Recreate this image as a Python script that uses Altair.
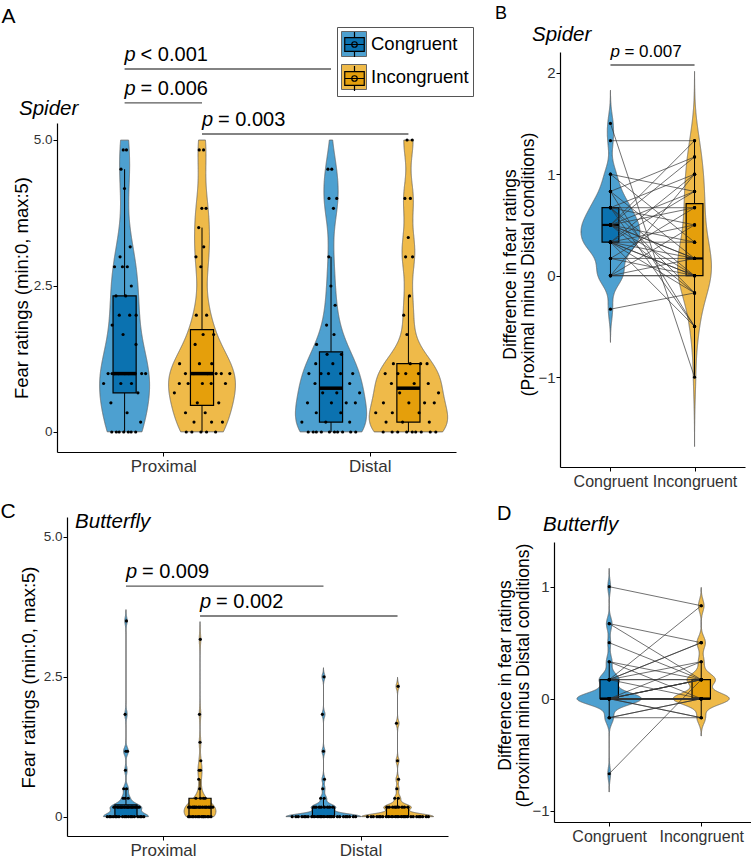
import altair as alt
import numpy as np
import pandas as pd

FONT = "Liberation Sans"
CONDITIONS = ["Congruent", "Incongruent"]
VIOLIN_FILL = ["#4DA0D0", "#EFBA49"]
BOX_FILL = ["#0B72B0", "#E59F0B"]
LOC_X = {"Proximal": 1.0, "Distal": 2.0}
COND_SHIFT = {"Congruent": -0.1875, "Incongruent": 0.1875}

# Spider: mean fear rating per participant (0-5)
spider_prox_cong = ([4.83, 4.83, 4.5, 4.17, 3.17, 3.0, 2.83, 2.83, 2.83, 2.5, 2.33, 2.33,
                     2.0, 2.0, 2.0, 1.83, 1.67, 1.5] + [1.0] * 9 + [0.83] * 3
                    + [0.67, 0.5, 0.33, 0.17] + [0.0] * 7)
spider_prox_incong = ([4.83, 4.83, 3.83, 3.83, 3.5, 3.17, 3.0, 2.83, 2.0, 2.0, 1.67, 1.67,
                       1.5, 1.17, 1.17, 1.17] + [1.0] * 6 + [0.83] * 5
                      + [0.67, 0.5, 0.5, 0.33, 0.33, 0.17, 0.17, 0.17] + [0.0] * 5)
spider_dist_cong = ([4.5, 4.5, 4.0, 4.0, 3.83, 3.0, 2.5, 2.17, 1.83, 1.67, 1.5, 1.33, 1.33,
                     1.17, 1.17] + [1.0] * 5 + [0.83] * 2 + [0.67] * 3 + [0.5] * 4
                    + [0.33] * 2 + [0.17] * 3 + [0.0] * 10)
spider_dist_incong = ([5.0, 5.0, 4.0, 4.0, 3.33, 3.0, 3.0, 2.33, 2.0, 1.67] + [1.17] * 4
                      + [1.0] * 4 + [0.83] * 3 + [0.67] * 2 + [0.5] * 4 + [0.33] * 3
                      + [0.17] * 3 + [0.0] * 9)

# Butterfly: mean fear rating per participant (0-5)
butterfly_prox_cong = [3.5, 1.83, 1.17, 1.17, 0.83, 0.5, 0.5, 0.33, 0.33, 0.33] + [0.17] * 12 + [0.0] * 18
butterfly_prox_incong = [3.17, 1.83, 1.33, 1.0, 0.83, 0.83, 0.67, 0.5] + [0.33] * 4 + [0.17] * 14 + [0.0] * 14
butterfly_dist_cong = [2.5, 1.83, 1.17, 0.67, 0.5, 0.33, 0.33] + [0.17] * 8 + [0.0] * 25
butterfly_dist_incong = [2.33, 1.67, 1.0, 0.67, 0.5, 0.33, 0.33] + [0.17] * 9 + [0.0] * 24

# Proximal minus Distal, paired by participant (same index = same person)
spider_diff_cong = [1.5, 1.33, 1.0, 1.0, 0.83, 0.83, 0.83,
                    0.67, 0.67, 0.67, 0.67, 0.67, 0.67,
                    0.5, 0.5, 0.5, 0.5, 0.5, 0.5, 0.5, 0.5, 0.5,
                    0.33, 0.33, 0.33, 0.33, 0.33, 0.33, 0.33, 0.33, 0.33,
                    0.17, 0.17, 0.17, 0.0, 0.0, 0.0, 0.0, 0.0, -0.33]
spider_diff_incong = [-1.0, 1.33, 0.83, 0.33, 1.17, 0.17, -0.5,
                      1.0, 0.67, 0.5, -0.17, 0.0, -0.5,
                      1.33, 1.17, 0.83, 0.17, 0.0, 0.33, -0.17, 0.17, 0.67,
                      1.0, 0.5, 0.17, 0.0, 0.0, -0.17, 0.33, 0.83, -0.5,
                      0.67, 0.17, 0.0, 1.0, 0.5, 0.0, 0.17, 0.0, -0.17]
butterfly_diff_cong = ([1.0, 0.67, 0.67, 0.5, 0.33, 0.33,
                        0.17, 0.17, 0.17, 0.17, 0.17, 0.17, 0.17]
                       + [0.0] * 23 + [-0.17, -0.17, -0.17, -0.67])
butterfly_diff_incong = ([0.83, 0.5, 0.17, 0.17, 0.17, 0.0,
                          0.83, 0.5, 0.5, 0.33, 0.17, 0.17, 0.0]
                         + [0.33] + [0.17] * 4 + [0.0] * 16 + [-0.17] * 2
                         + [0.0, 0.0, -0.17, 0.17])

BOX_GLYPH = ("M-0.78,-0.55H0.78V0.55H-0.78Z M-0.78,0H0.78 M0,-1V-0.55 M0,0.55V1 "
             "M0.22,0A0.22,0.22,0,1,1,-0.22,0A0.22,0.22,0,1,1,0.22,0Z")

VIOLIN_SCALE = alt.Scale(domain=CONDITIONS, range=VIOLIN_FILL)
BOX_SCALE = alt.Scale(range=BOX_FILL)
VIOLIN_LEGEND = alt.Legend(orient="none", legendX=337, legendY=27, title=None,
                           symbolType="square", symbolSize=625, symbolStrokeColor="#666666",
                           symbolStrokeWidth=1, symbolOpacity=1, labelFont=FONT,
                           labelFontSize=18.5, labelColor="black", labelOffset=4,
                           padding=4, rowPadding=3, strokeColor="#555555")
BOX_LEGEND = alt.Legend(orient="none", legendX=337, legendY=27, title=None,
                        symbolType=BOX_GLYPH, symbolSize=625, symbolStrokeColor="black",
                        symbolStrokeWidth=1.2, symbolOpacity=1, labelFont=FONT,
                        labelFontSize=18.5, labelOpacity=0, labelOffset=4,
                        padding=4, rowPadding=3)

# Silverman's rule of thumb (R's bw.nrd0), per group
BW_EXPR = ("0.9 * (min(datum.sd, (datum.q3 - datum.q1) / 1.34) || datum.sd)"
           " * pow(datum.n, -0.2)")


def pscale(domain, rng):
    return alt.Scale(domain=domain, range=rng, nice=False, zero=False)


def nrd0(values):
    v = np.asarray(values, dtype=float)
    sd = v.std(ddof=1)
    q1, q3 = np.percentile(v, [25, 75])
    lo = min(sd, (q3 - q1) / 1.34) or sd
    return 0.9 * lo * len(v) ** -0.2


def ratings_frame(groups):
    rows = []
    for (loc, cond), vals in groups:
        for v in vals:
            rows.append({"grp": f"{loc}-{cond}", "cond": cond,
                         "pos": LOC_X[loc] + COND_SHIFT[cond], "value": v})
    return pd.DataFrame(rows)


def diff_frame(cong, incong):
    rows = []
    for i, (a, b) in enumerate(zip(cong, incong)):
        rows.append({"pid": i, "grp": "Congruent", "cond": "Congruent", "pos": 1.0, "value": a})
        rows.append({"pid": i, "grp": "Incongruent", "cond": "Incongruent", "pos": 2.0, "value": b})
    return pd.DataFrame(rows)


def violin_layer(df, xs, ys, half, xaxis, yaxis, bounds=None):
    # kernel density per group, evaluated on value/bw so that one transform serves
    # every group; widths scaled so the largest density in the panel spans `half`
    ext = []
    for _, g in df.groupby("grp"):
        h = nrd0(g["value"])
        ext += [g["value"].min() / h - 3.5, g["value"].max() / h + 3.5]
    extent = [float(min(ext)), float(max(ext))]
    clip = ""
    if bounds is not None:
        clip = f" && datum.v >= {bounds[0]} && datum.v <= {bounds[1]}"
    return (
        alt.Chart(df)
        .transform_joinaggregate(sd="stdev(value)", q1="q1(value)", q3="q3(value)",
                                 n="count()", vmin="min(value)", vmax="max(value)",
                                 groupby=["grp"])
        .transform_calculate(bw=BW_EXPR)
        .transform_calculate(u="datum.value / datum.bw")
        .transform_density("u", as_=["u", "d"], bandwidth=1, extent=extent, steps=3000,
                           groupby=["grp", "cond", "pos", "bw", "vmin", "vmax"])
        .transform_calculate(v="datum.u * datum.bw", dens="datum.d / datum.bw")
        .transform_filter("datum.v >= datum.vmin - 3 * datum.bw && "
                          "datum.v <= datum.vmax + 3 * datum.bw" + clip)
        .transform_joinaggregate(dmax="max(dens)")
        .transform_calculate(xl=f"datum.pos - {half} * datum.dens / datum.dmax",
                             xr=f"datum.pos + {half} * datum.dens / datum.dmax")
        .mark_area(orient="horizontal", stroke="#5f5f5f", strokeWidth=0.8)
        .encode(
            y=alt.Y("v:Q", scale=ys, axis=yaxis),
            x=alt.X("xl:Q", scale=xs, axis=xaxis, stack=None),
            x2="xr:Q",
            color=alt.Color("cond:N", scale=VIOLIN_SCALE, legend=VIOLIN_LEGEND),
            detail="grp:N",
        )
    )


def box_layers(df, xs, ys, hw, med_width):
    base = (
        alt.Chart(df)
        .transform_joinaggregate(q1="q1(value)", q3="q3(value)", med="median(value)",
                                 groupby=["grp"])
        .transform_filter("datum.value >= datum.q1 - 1.5 * (datum.q3 - datum.q1) && "
                          "datum.value <= datum.q3 + 1.5 * (datum.q3 - datum.q1)")
        .transform_aggregate(lo="min(value)", hi="max(value)", q1="max(q1)", q3="max(q3)",
                             med="max(med)", groupby=["grp", "cond", "pos"])
        .transform_calculate(xl=f"datum.pos - {hw}", xr=f"datum.pos + {hw}")
    )
    low = base.mark_rule(color="black", strokeWidth=1).encode(
        x=alt.X("pos:Q", scale=xs, axis=None), y=alt.Y("lo:Q", scale=ys, axis=None), y2="q1:Q")
    high = base.mark_rule(color="black", strokeWidth=1).encode(
        x=alt.X("pos:Q", scale=xs, axis=None), y=alt.Y("q3:Q", scale=ys, axis=None), y2="hi:Q")
    rect = base.mark_rect(stroke="black", strokeWidth=1.2).encode(
        x=alt.X("xl:Q", scale=xs, axis=None), x2="xr:Q",
        y=alt.Y("q1:Q", scale=ys, axis=None), y2="q3:Q",
        fill=alt.Fill("cond:N", scale=BOX_SCALE, legend=BOX_LEGEND))
    med = base.mark_rule(color="black", strokeWidth=med_width).encode(
        x=alt.X("xl:Q", scale=xs, axis=None), x2="xr:Q", y=alt.Y("med:Q", scale=ys, axis=None))
    return [low, high, rect, med]


def sina_points(df, xs, ys, half):
    # points spread sideways in proportion to the group's density at their value
    return (
        alt.Chart(df)
        .transform_window(rn="row_number()", groupby=["grp"], sort=[alt.SortField("value")])
        .transform_joinaggregate(sd="stdev(value)", q1="q1(value)", q3="q3(value)",
                                 n="count()", others="values(value)", groupby=["grp"])
        .transform_calculate(bw=BW_EXPR)
        .transform_flatten(["others"], as_=["other"])
        .transform_calculate(k="exp(-0.5 * pow((datum.value - datum.other.value) / datum.bw, 2))")
        .transform_aggregate(ksum="sum(k)", groupby=["grp", "pos", "value", "rn", "bw", "n"])
        .transform_calculate(dens="datum.ksum / (datum.n * datum.bw * 2.5066283)")
        .transform_joinaggregate(dmax="max(dens)")
        .transform_calculate(xj=f"datum.pos + (((datum.rn * 0.6180339887) % 1) * 2 - 1)"
                                f" * {half} * datum.dens / datum.dmax")
        .mark_circle(size=10, color="black", opacity=1)
        .encode(x=alt.X("xj:Q", scale=xs, axis=None), y=alt.Y("value:Q", scale=ys, axis=None))
    )


def paired_layers(df, xs, ys):
    lines = alt.Chart(df).mark_line(color="#333333", strokeWidth=0.7).encode(
        x=alt.X("pos:Q", scale=xs, axis=None), y=alt.Y("value:Q", scale=ys, axis=None),
        detail="pid:N")
    dots = alt.Chart(df).mark_circle(size=10, color="black", opacity=1).encode(
        x=alt.X("pos:Q", scale=xs, axis=None), y=alt.Y("value:Q", scale=ys, axis=None))
    return [lines, dots]


def sig_layers(x1, x2, ylev, labels, xs, ys, size, gap):
    d = pd.DataFrame({"x1": x1, "x2": x2, "y": ylev, "label": labels})
    rule = alt.Chart(d).mark_rule(color="#5a5a5a", strokeWidth=1.3).encode(
        x=alt.X("x1:Q", scale=xs, axis=None), x2="x2:Q", y=alt.Y("y:Q", scale=ys, axis=None))
    p = alt.Chart(d).mark_text(align="left", baseline="alphabetic", dy=-8, fontSize=size,
                               fontStyle="italic", font=FONT, color="black").encode(
        x=alt.X("x1:Q", scale=xs, axis=None), y=alt.Y("y:Q", scale=ys, axis=None),
        text=alt.value("p"))
    rest = alt.Chart(d).mark_text(align="left", baseline="alphabetic", dy=-8, dx=gap,
                                  fontSize=size, font=FONT, color="black").encode(
        x=alt.X("x1:Q", scale=xs, axis=None), y=alt.Y("y:Q", scale=ys, axis=None),
        text="label:N")
    return [rule, p, rest]


def label_layer(x, y, texts, xs, ys, size, style):
    d = pd.DataFrame({"x": x, "y": y, "t": texts})
    return alt.Chart(d).mark_text(align="left", baseline="alphabetic", fontSize=size,
                                  fontStyle=style, font=FONT, color="black").encode(
        x=alt.X("x:Q", scale=xs, axis=None), y=alt.Y("y:Q", scale=ys, axis=None), text="t:N")


def y_axis(offset, values, title, title_x, title_y, label_expr=None, label_size=13.5,
           title_size=18.5):
    kw = dict(orient="left", offset=offset, values=values, title=title, titleX=title_x,
              titleY=title_y, titleAngle=270, titleAlign="center", titleBaseline="middle",
              titleFontSize=title_size, titleFontWeight="normal", titleColor="black",
              titleLineHeight=18.5, labelFontSize=label_size, labelColor="#333333",
              labelPadding=1, tickSize=4, tickColor="black", domainColor="black",
              domainWidth=1.2, tickWidth=1, grid=False)
    if label_expr is not None:
        kw["labelExpr"] = label_expr
    return alt.Axis(**kw)


def x_axis(offset, label_expr, size):
    return alt.Axis(orient="bottom", offset=offset, values=[1, 2], labelExpr=label_expr,
                    title=None, labelFontSize=size, labelColor="#333333", labelPadding=2,
                    labelFlush=False, tickSize=4, tickColor="black", domainColor="black",
                    domainWidth=1.2, tickWidth=1, grid=False)


HEIGHT = 856
RATING_LABELS = "datum.value == 0 ? '0' : format(datum.value, '.1f')"
LOC_LABELS = "datum.value == 1 ? 'Proximal' : 'Distal'"
COND_LABELS = "datum.value == 1 ? 'Congruent' : 'Incongruent'"
DIFF_TITLE = ["Difference in fear ratings", "(Proximal minus Distal conditions)"]
PC, PI = LOC_X["Proximal"] + COND_SHIFT["Congruent"], LOC_X["Proximal"] + COND_SHIFT["Incongruent"]
DC, DI = LOC_X["Distal"] + COND_SHIFT["Congruent"], LOC_X["Distal"] + COND_SHIFT["Incongruent"]

# ---- A: spider ratings ----
dfA = ratings_frame([(("Proximal", "Congruent"), spider_prox_cong),
                     (("Proximal", "Incongruent"), spider_prox_incong),
                     (("Distal", "Congruent"), spider_dist_cong),
                     (("Distal", "Incongruent"), spider_dist_incong)])
xsA = pscale([0.485, 2.418], [57, 456])
ysA = pscale([-0.3425, 5.291], [452, 123])
layersA = [
    violin_layer(dfA, xsA, ysA, 0.19,
                 x_axis(452 - HEIGHT, LOC_LABELS, 17),
                 y_axis(-57, [0, 2.5, 5], "Fear ratings (min:0, max:5)", -36, 287.5, RATING_LABELS),
                 bounds=(0, 5)),
    *box_layers(dfA, xsA, ysA, 0.056, 3.5),
    sina_points(dfA, xsA, ysA, 0.17),
    *sig_layers([PC, PC, PI], [DC, PI, DI], [6.216, 5.634, 5.103],
                ["< 0.001", "= 0.006", "= 0.003"], xsA, ysA, 20, 16),
    label_layer([0.216], [6.998], ["A"], xsA, ysA, 21, "normal"),
    label_layer([0.301], [5.428], ["Spider"], xsA, ysA, 20.5, "italic"),
]

# ---- B: spider difference ----
dfB = diff_frame(spider_diff_cong, spider_diff_incong)
xsB = pscale([0.4, 2.6], [560, 745])
ysB = pscale([-1.885, 2.204], [467, 52])
layersB = [
    violin_layer(dfB, xsB, ysB, 0.35,
                 x_axis(467 - HEIGHT, COND_LABELS, 16),
                 y_axis(-560, [-1, 0, 1, 2], DIFF_TITLE, -50, 264, label_size=15,
                        title_size=17.5)),
    *box_layers(dfB, xsB, ysB, 0.1, 2.2),
    *paired_layers(dfB, xsB, ysB),
    *sig_layers([1.0], [2.0], [2.076], ["= 0.007"], xsB, ysB, 17, 14),
    label_layer([-0.373], [2.53], ["B"], xsB, ysB, 18, "normal"),
    label_layer([0.067], [2.315], ["Spider"], xsB, ysB, 20.5, "italic"),
]

# ---- C: butterfly ratings ----
dfC = ratings_frame([(("Proximal", "Congruent"), butterfly_prox_cong),
                     (("Proximal", "Incongruent"), butterfly_prox_incong),
                     (("Distal", "Congruent"), butterfly_dist_cong),
                     (("Distal", "Incongruent"), butterfly_dist_incong)])
xsC = pscale([0.514, 2.443], [67, 448])
ysC = pscale([-0.345, 5.357], [836, 517])
layersC = [
    violin_layer(dfC, xsC, ysC, 0.19,
                 x_axis(836 - HEIGHT, LOC_LABELS, 17),
                 y_axis(-67, [0, 2.5, 5], "Fear ratings (min:0, max:5)", -39, 677, RATING_LABELS),
                 bounds=(0, 5)),
    *box_layers(dfC, xsC, ysC, 0.056, 2.5),
    sina_points(dfC, xsC, ysC, 0.17),
    *sig_layers([PC, PI], [DC, DI], [4.123, 3.587], ["= 0.009", "= 0.002"], xsC, ysC, 20, 16),
    label_layer([0.177], [5.339], ["C"], xsC, ysC, 21, "normal"),
    label_layer([0.555], [5.165], ["Butterfly"], xsC, ysC, 20.5, "italic"),
]

# ---- D: butterfly difference ----
dfD = diff_frame(butterfly_diff_cong, butterfly_diff_incong)
xsD = pscale([0.4, 2.541], [554, 751])
ysD = pscale([-1.101, 1.399], [822, 542])
layersD = [
    violin_layer(dfD, xsD, ysD, 0.35,
                 x_axis(822 - HEIGHT, COND_LABELS, 16),
                 y_axis(-554, [-1, 0, 1], DIFF_TITLE, -49, 675, label_size=15,
                        title_size=17.5)),
    *box_layers(dfD, xsD, ysD, 0.1, 2.5),
    *paired_layers(dfD, xsD, ysD),
    label_layer([-0.22], [1.595], ["D"], xsD, ysD, 20, "normal"),
    label_layer([0.28], [1.497], ["Butterfly"], xsD, ysD, 20.5, "italic"),
]

chart = (
    alt.layer(*layersA, *layersB, *layersC, *layersD)
    .resolve_scale(x="independent", y="independent")
    .resolve_axis(x="independent", y="independent")
    .properties(width=751, height=HEIGHT, padding=0,
                autosize=alt.AutoSizeParams(type="none"), background="white")
    .configure(font=FONT)
    .configure_view(strokeWidth=0)
    .configure_axis(labelFont=FONT, titleFont=FONT)
)

chart.save("out.html", embed_options={"renderer": "svg", "actions": False})
